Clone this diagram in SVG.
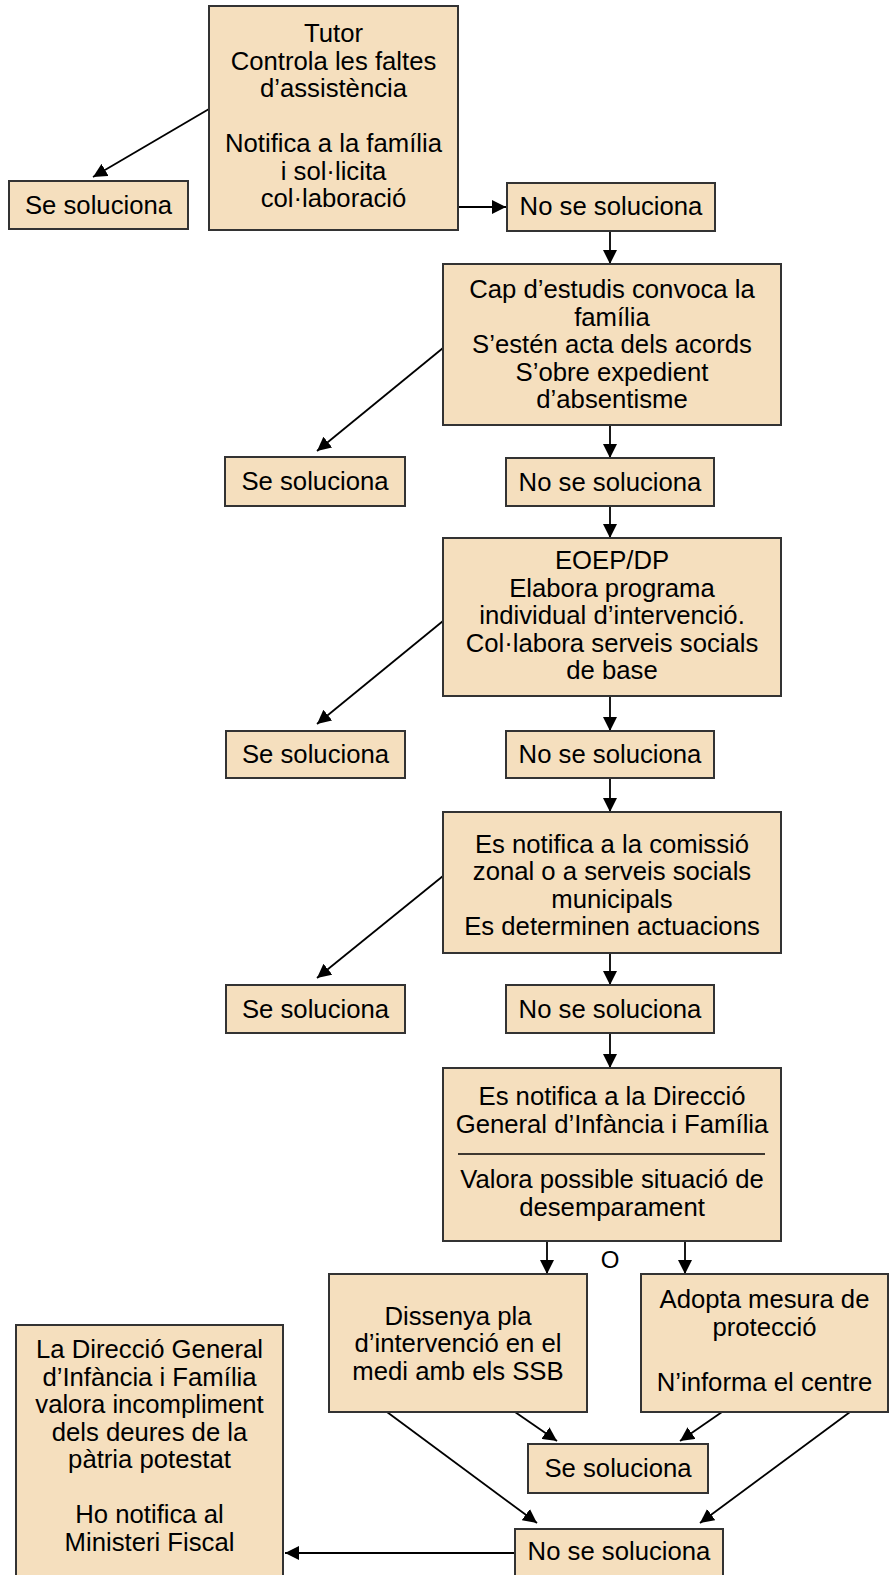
<svg xmlns="http://www.w3.org/2000/svg" width="889" height="1575" viewBox="0 0 889 1575">
<style>
.box{fill:#F5DFBE;stroke:#333;stroke-width:2}
text{font-family:"Liberation Sans",Arial,sans-serif;font-size:25.7px;fill:#000;text-anchor:middle}
.c line{stroke:#000;stroke-width:1.8;marker-end:url(#ah)}
</style>
<defs>
<marker id="ah" markerUnits="userSpaceOnUse" markerWidth="14" markerHeight="14" viewBox="0 0 14 14" refX="14" refY="7" orient="auto">
<path d="M0,0 L14,7 L0,14 z" fill="#000"/>
</marker>
</defs>
<rect width="889" height="1575" fill="#fff"/>
<g class="c" id="connectors">
<line x1="209" y1="109" x2="93" y2="177"/>
<line x1="458" y1="207" x2="506" y2="207"/>
<line x1="610" y1="231" x2="610" y2="264"/>
<line x1="443" y1="348" x2="317" y2="451"/>
<line x1="610" y1="425" x2="610" y2="458"/>
<line x1="610" y1="506" x2="610" y2="538"/>
<line x1="443" y1="621" x2="317" y2="724"/>
<line x1="610" y1="696" x2="610" y2="731"/>
<line x1="610" y1="778" x2="610" y2="812"/>
<line x1="443" y1="876" x2="317" y2="978"/>
<line x1="610" y1="953" x2="610" y2="985"/>
<line x1="610" y1="1033" x2="610" y2="1068"/>
<line x1="547" y1="1241" x2="547" y2="1274"/>
<line x1="685" y1="1241" x2="685" y2="1274"/>
<line x1="387" y1="1412" x2="537" y2="1523"/>
<line x1="515" y1="1412" x2="557" y2="1441"/>
<line x1="722" y1="1412" x2="680" y2="1441"/>
<line x1="850" y1="1412" x2="700" y2="1523"/>
<line x1="515" y1="1553" x2="285" y2="1553"/>
</g>
<g id="tutor">
<rect class="box" x="209" y="6" width="249" height="224"/>
<text x="333.5" y="42">Tutor</text>
<text x="333.5" y="69.5">Controla les faltes</text>
<text x="333.5" y="97">d’assistència</text>
<text x="333.5" y="152">Notifica a la família</text>
<text x="333.5" y="179.5">i sol·licita</text>
<text x="333.5" y="207">col·laboració</text>
</g>
<g id="se1"><rect class="box" x="9" y="181" width="179" height="48"/><text x="98.5" y="213.5">Se soluciona</text></g>
<g id="no1"><rect class="box" x="507" y="183" width="208" height="48"/><text x="611" y="215">No se soluciona</text></g>
<g id="cap">
<rect class="box" x="443" y="264" width="338" height="161"/>
<text x="612" y="298">Cap d’estudis convoca la</text>
<text x="612" y="325.5">família</text>
<text x="612" y="353">S’estén acta dels acords</text>
<text x="612" y="380.5">S’obre expedient</text>
<text x="612" y="408">d’absentisme</text>
</g>
<g id="se2"><rect class="box" x="225" y="457" width="180" height="49"/><text x="315" y="490">Se soluciona</text></g>
<g id="no2"><rect class="box" x="506" y="458" width="208" height="48"/><text x="610" y="490.5">No se soluciona</text></g>
<g id="eoep">
<rect class="box" x="443" y="538" width="338" height="158"/>
<text x="612" y="569">EOEP/DP</text>
<text x="612" y="596.5">Elabora programa</text>
<text x="612" y="624">individual d’intervenció.</text>
<text x="612" y="651.5">Col·labora serveis socials</text>
<text x="612" y="679">de base</text>
</g>
<g id="se3"><rect class="box" x="226" y="731" width="179" height="47"/><text x="315.5" y="763">Se soluciona</text></g>
<g id="no3"><rect class="box" x="506" y="731" width="208" height="47"/><text x="610" y="763">No se soluciona</text></g>
<g id="comissio">
<rect class="box" x="443" y="812" width="338" height="141"/>
<text x="612" y="852.5">Es notifica a la comissió</text>
<text x="612" y="880">zonal o a serveis socials</text>
<text x="612" y="907.5">municipals</text>
<text x="612" y="935">Es determinen actuacions</text>
</g>
<g id="se4"><rect class="box" x="226" y="985" width="179" height="48"/><text x="315.5" y="1017.5">Se soluciona</text></g>
<g id="no4"><rect class="box" x="506" y="985" width="208" height="48"/><text x="610" y="1017.5">No se soluciona</text></g>
<g id="dgif">
<rect class="box" x="443" y="1068" width="338" height="173"/>
<text x="612" y="1105">Es notifica a la Direcció</text>
<text x="612" y="1133">General d’Infància i Família</text>
<line x1="458" y1="1154" x2="765" y2="1154" stroke="#000" stroke-width="1.6"/>
<text x="612" y="1188">Valora possible situació de</text>
<text x="612" y="1216">desemparament</text>
</g>
<g id="o"><text x="610" y="1268" style="font-size:24px">O</text></g>
<g id="dissenya">
<rect class="box" x="329" y="1274" width="258" height="138"/>
<text x="458" y="1324.5">Dissenya pla</text>
<text x="458" y="1352">d’intervenció en el</text>
<text x="458" y="1379.5">medi amb els SSB</text>
</g>
<g id="adopta">
<rect class="box" x="641" y="1274" width="247" height="138"/>
<text x="764.5" y="1308">Adopta mesura de</text>
<text x="764.5" y="1335.5">protecció</text>
<text x="764.5" y="1391">N’informa el centre</text>
</g>
<g id="se5"><rect class="box" x="528" y="1444" width="180" height="49"/><text x="618" y="1477">Se soluciona</text></g>
<g id="no5"><rect class="box" x="515" y="1529" width="208" height="60"/><text x="619" y="1560">No se soluciona</text></g>
<g id="ministeri">
<rect class="box" x="16" y="1325" width="267" height="270"/>
<text x="149.5" y="1358">La Direcció General</text>
<text x="149.5" y="1385.5">d’Infància i Família</text>
<text x="149.5" y="1413">valora incompliment</text>
<text x="149.5" y="1440.5">dels deures de la</text>
<text x="149.5" y="1468">pàtria potestat</text>
<text x="149.5" y="1523">Ho notifica al</text>
<text x="149.5" y="1550.5">Ministeri Fiscal</text>
</g>
</svg>
